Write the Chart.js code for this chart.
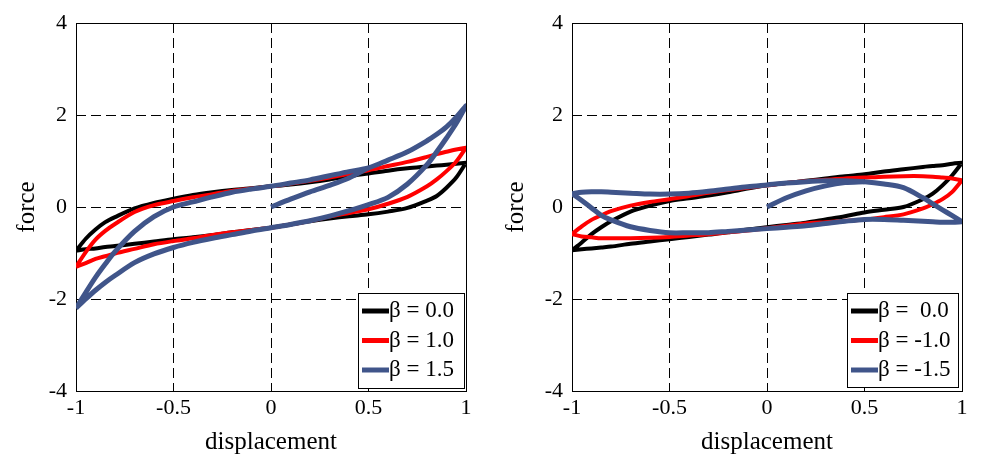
<!DOCTYPE html>
<html>
<head>
<meta charset="utf-8">
<script src="https://cdn.jsdelivr.net/npm/chart.js"></script>
<style>
  body { margin: 0; background: #fff; }
  #wrap { position: relative; width: 986px; height: 463px; }
  canvas { position: absolute; top: 0; }
  #left { left: 0; }
  #right { left: 493px; }
</style>
</head>
<body>
<div id="wrap">
  <canvas id="left" width="490" height="463"></canvas>
  <canvas id="right" width="493" height="463"></canvas>
</div>
<script>
"use strict";

// Displacement points shared by every branch of the loops
let disp = [-1, -0.95, -0.9, -0.85, -0.8, -0.7, -0.6, -0.5, -0.4, -0.3, -0.2, -0.1, 0,
            0.1, 0.2, 0.3, 0.4, 0.5, 0.6, 0.7, 0.8, 0.85, 0.9, 0.95, 1];
// first loading curve from the origin
let dispStart = [0, 0.1, 0.2, 0.3, 0.4, 0.5];

let xTicks = [-1, -0.5, 0, 0.5, 1];
let xTickLabels = ["-1", "-0.5", "0", "0.5", "1"];
let yTicks = [-4, -2, 0, 2, 4];
let yTickLabels = ["-4", "-2", "0", "2", "4"];

let leftLabels = ["β = 0.0", "β = 1.0", "β = 1.5"];
let rightLabels = ["β =  0.0", "β = -1.0", "β = -1.5"];

// Left panel - "Up" is the branch going right, "Down" the branch coming back (both listed by disp)
let leftBlackUp = [-0.95, -0.69, -0.49, -0.33, -0.22, -0.03, 0.09, 0.18, 0.26, 0.32, 0.37, 0.41, 0.45,
                   0.49, 0.54, 0.60, 0.67, 0.73, 0.79, 0.84, 0.88, 0.90, 0.92, 0.94, 0.96];
let leftBlackDown = [-0.95, -0.92, -0.90, -0.87, -0.85, -0.80, -0.75, -0.70, -0.66, -0.61, -0.55, -0.50, -0.45,
                     -0.38, -0.31, -0.25, -0.20, -0.16, -0.10, -0.02, 0.14, 0.24, 0.42, 0.64, 0.96];
let leftRedUp = [-1.30, -0.98, -0.71, -0.52, -0.37, -0.11, 0.04, 0.13, 0.21, 0.28, 0.35, 0.40, 0.45,
                 0.51, 0.57, 0.64, 0.72, 0.80, 0.89, 0.98, 1.09, 1.15, 1.20, 1.25, 1.29];
let leftRedDown = [-1.30, -1.22, -1.13, -1.07, -1.01, -0.91, -0.81, -0.74, -0.68, -0.61, -0.55, -0.50, -0.45,
                   -0.38, -0.30, -0.21, -0.13, -0.05, 0.07, 0.22, 0.45, 0.60, 0.78, 0.99, 1.29];
let leftBlueUp = [-2.20, -1.86, -1.53, -1.24, -0.97, -0.53, -0.21, 0.00, 0.11, 0.22, 0.32, 0.39, 0.45,
                  0.52, 0.59, 0.68, 0.77, 0.85, 1.02, 1.20, 1.44, 1.58, 1.74, 1.95, 2.20];
let leftBlueDown = [-2.20, -2.00, -1.81, -1.64, -1.49, -1.21, -1.02, -0.88, -0.77, -0.68, -0.60, -0.52, -0.45,
                    -0.38, -0.30, -0.20, -0.08, 0.05, 0.21, 0.50, 0.92, 1.20, 1.50, 1.82, 2.20];
let leftBlueStart = [0, 0.17, 0.33, 0.47, 0.63, 0.85];

// Right panel
let rightBlackUp = [-0.94, -0.77, -0.59, -0.44, -0.31, -0.10, 0.03, 0.13, 0.19, 0.25, 0.32, 0.40, 0.47,
                    0.52, 0.57, 0.62, 0.67, 0.71, 0.77, 0.82, 0.87, 0.89, 0.91, 0.94, 0.96];
let rightBlackDown = [-0.94, -0.92, -0.90, -0.88, -0.86, -0.80, -0.75, -0.70, -0.65, -0.60, -0.55, -0.49, -0.44,
                      -0.39, -0.34, -0.27, -0.20, -0.12, -0.06, 0.00, 0.17, 0.29, 0.47, 0.69, 0.96];
let rightRedUp = [-0.59, -0.42, -0.28, -0.18, -0.09, 0.03, 0.11, 0.17, 0.24, 0.31, 0.37, 0.42, 0.47,
                  0.52, 0.56, 0.59, 0.62, 0.64, 0.66, 0.67, 0.67, 0.66, 0.64, 0.62, 0.58];
let rightRedDown = [-0.59, -0.64, -0.66, -0.68, -0.68, -0.68, -0.67, -0.65, -0.62, -0.59, -0.55, -0.51, -0.46,
                    -0.41, -0.36, -0.33, -0.30, -0.27, -0.22, -0.16, -0.03, 0.06, 0.17, 0.33, 0.58];
let rightBlueUp = [0.29, 0.32, 0.33, 0.33, 0.32, 0.30, 0.28, 0.28, 0.30, 0.34, 0.39, 0.44, 0.48,
                   0.52, 0.55, 0.57, 0.57, 0.55, 0.50, 0.42, 0.20, 0.07, -0.06, -0.19, -0.32];
let rightBlueDown = [0.29, 0.14, -0.02, -0.18, -0.28, -0.43, -0.51, -0.56, -0.56, -0.56, -0.53, -0.50, -0.47,
                     -0.44, -0.41, -0.36, -0.31, -0.27, -0.27, -0.29, -0.31, -0.32, -0.33, -0.33, -0.32];
let rightBlueStart = [0, 0.20, 0.35, 0.46, 0.53, 0.55];

let lineColors = ["#000000", "#ff0000", "#40558a"];
let lineWidths = [4, 4, 5];
let serif = "'Liberation Serif', 'Times New Roman', serif";

// join the two branches into one closed loop
function loop(up, down) {
  let pts = [];
  for (let i = 0; i < disp.length; i++) {
    pts.push({ x: disp[i], y: up[i] });
  }
  for (let i = disp.length - 1; i >= 0; i--) {
    pts.push({ x: disp[i], y: down[i] });
  }
  return pts;
}

function startCurve(ys) {
  return dispStart.map((x, i) => ({ x: x, y: ys[i] }));
}

// solid box round the plot area
let framePlugin = {
  id: "frame",
  beforeDatasetsDraw(chart) {
    let a = chart.chartArea;
    let ctx = chart.ctx;
    ctx.save();
    ctx.strokeStyle = "#000";
    ctx.lineWidth = 1;
    ctx.strokeRect(Math.round(a.left) + 0.5, Math.round(a.top) + 0.5,
                   Math.round(a.right - a.left), Math.round(a.bottom - a.top));
    ctx.restore();
  }
};

// legend drawn inside the plot, bottom right
let boxLegend = {
  id: "boxLegend",
  afterDraw(chart, args, opts) {
    let ctx = chart.ctx;
    ctx.save();
    ctx.fillStyle = "#fff";
    ctx.fillRect(opts.x, opts.y, opts.w, opts.h);
    ctx.strokeStyle = "#000";
    ctx.lineWidth = 1;
    ctx.strokeRect(opts.x + 0.5, opts.y + 0.5, opts.w, opts.h);
    ctx.font = "23px " + serif;
    ctx.textBaseline = "middle";
    let items = chart.data.datasets.filter(d => d.label);
    items.forEach((d, i) => {
      let y = opts.y + opts.firstRow + i * opts.rowGap;
      ctx.strokeStyle = d.borderColor;
      ctx.lineWidth = 5;
      ctx.beginPath();
      ctx.moveTo(opts.x + 4, y);
      ctx.lineTo(opts.x + 31, y);
      ctx.stroke();
      ctx.fillStyle = "#000";
      ctx.fillText(d.label, opts.x + 31, y);
    });
    ctx.restore();
  }
};

function buildChart(id, labels, ups, downs, startY, axisWidth, titlePad, legendBox) {
  let datasets = [];
  for (let i = 0; i < 3; i++) {
    datasets.push({
      label: labels[i],
      data: loop(ups[i], downs[i]),
      borderColor: lineColors[i],
      borderWidth: lineWidths[i],
      order: 3 - i
    });
  }
  datasets.push({
    label: "",
    data: startCurve(startY),
    borderColor: lineColors[2],
    borderWidth: lineWidths[2],
    borderCapStyle: "butt",
    order: 0
  });

  return new Chart(document.getElementById(id), {
    type: "scatter",
    data: { datasets: datasets },
    plugins: [framePlugin, boxLegend],
    options: {
      responsive: false,
      animation: false,
      devicePixelRatio: 1,
      layout: { padding: { left: 0, top: 23, right: 24, bottom: 0 } },
      datasets: {
        scatter: {
          showLine: true,
          pointRadius: 0,
          tension: 0.3,
          borderJoinStyle: "round"
        }
      },
      scales: {
        x: {
          type: "linear",
          min: -1,
          max: 1,
          afterBuildTicks: s => { s.ticks = xTicks.map(v => ({ value: v })); },
          afterFit: s => { s.height = 72; },
          grid: { color: "#000", lineWidth: 1, drawTicks: false },
          border: { display: false, dash: [10, 5] },
          ticks: {
            color: "#000", padding: 4, maxRotation: 0,
            font: { family: serif, size: 22 },
            callback: (v, i) => xTickLabels[i]
          },
          title: { display: true, text: "displacement", color: "#000", padding: { bottom: 6 },
                   font: { family: serif, size: 25 } }
        },
        y: {
          type: "linear",
          min: -4,
          max: 4,
          afterBuildTicks: s => { s.ticks = yTicks.map(v => ({ value: v })); },
          afterFit: s => { s.width = axisWidth; },
          grid: { color: "#000", lineWidth: 1, drawTicks: false },
          border: { display: false, dash: [10, 5] },
          ticks: {
            color: "#000", padding: 9,
            font: { family: serif, size: 22 },
            callback: (v, i) => yTickLabels[i]
          },
          title: { display: true, text: "force", color: "#000", padding: { top: titlePad },
                   font: { family: serif, size: 25 } }
        }
      },
      plugins: {
        legend: { display: false },
        tooltip: { enabled: false },
        boxLegend: legendBox
      }
    }
  });
}

buildChart("left", leftLabels,
  [leftBlackUp, leftRedUp, leftBlueUp],
  [leftBlackDown, leftRedDown, leftBlueDown],
  leftBlueStart, 76, 12,
  { x: 358, y: 293, w: 106, h: 95, firstRow: 18, rowGap: 29.5 });

buildChart("right", rightLabels,
  [rightBlackUp, rightRedUp, rightBlueUp],
  [rightBlackDown, rightRedDown, rightBlueDown],
  rightBlueStart, 79, 8,
  { x: 354, y: 293, w: 111, h: 94, firstRow: 18, rowGap: 29.5 });
</script>
</body>
</html>
